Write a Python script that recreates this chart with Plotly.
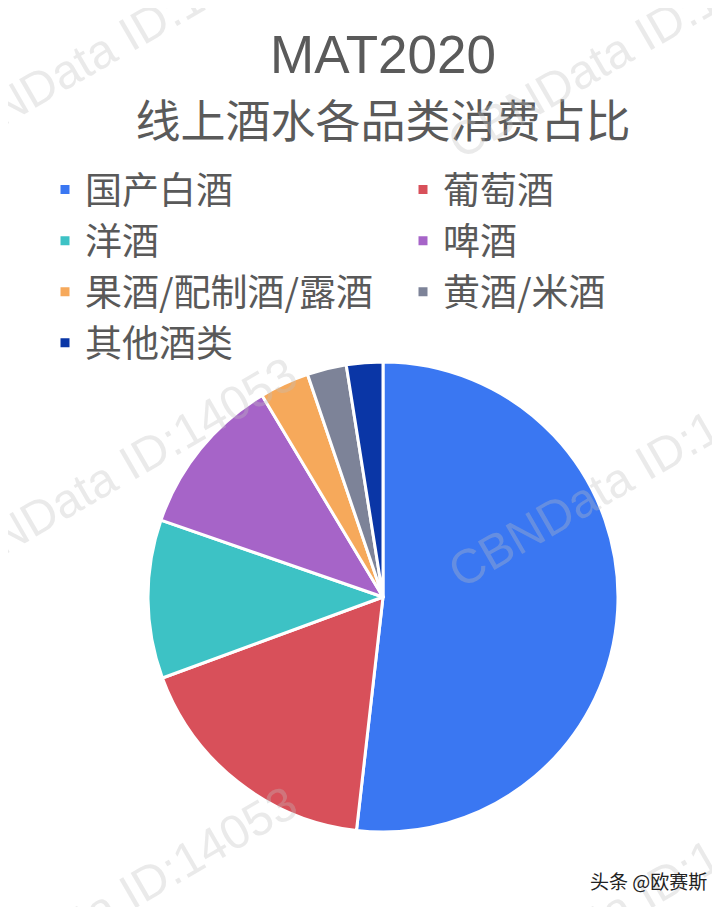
import plotly.graph_objects as go

# ---- data ----
categories = ["国产白酒", "葡萄酒", "洋酒", "啤酒", "果酒/配制酒/露酒", "黄酒/米酒", "其他酒类"]
shares = [51.8, 17.6, 10.9, 11.1, 3.4, 2.7, 2.5]
colors = ["#3A77F2", "#D8505A", "#3DC2C5", "#A664C8", "#F6A95B", "#7D8398", "#0A36A6"]

title_line1 = "MAT2020"
title_line2 = "线上酒水各品类消费占比"
source_text = "头条 @欧赛斯"
watermark = "CBNData ID:14053"

# the page body has an 8px margin, so the figure is sized to fit the window
W, H = 712, 899

cx, cy, r = 375, 589, 235   # pie centre / radius in figure pixels

fig = go.Figure()
fig.add_trace(go.Pie(
    labels=categories,
    values=shares,
    sort=False,
    direction="clockwise",
    rotation=0,
    textinfo="none",
    hoverinfo="label+percent",
    marker=dict(colors=colors, line=dict(color="white", width=3)),
    domain=dict(x=[(cx - r) / W, (cx + r) / W],
                y=[(H - cy - r) / H, (H - cy + r) / H]),
))

# faint tiled watermark
wm_pos = [(106, 36), (622, 36), (106, 464), (622, 464), (106, 893), (622, 893)]
for (px, py) in wm_pos:
    fig.add_annotation(
        x=px / W, y=1 - py / H, xref="paper", yref="paper",
        text=watermark, showarrow=False, textangle=-30,
        font=dict(family="Liberation Sans", size=48, color="rgba(190,190,190,0.33)"),
        xanchor="center", yanchor="middle",
    )

fig.add_annotation(
    x=640 / W, y=1 - 872 / H, xref="paper", yref="paper",
    text=source_text, showarrow=False,
    font=dict(family="Noto Sans CJK SC", size=19, color="#222222"),
    xanchor="center", yanchor="middle",
)

fig.update_layout(
    width=W, height=H,
    margin=dict(l=0, r=0, t=0, b=0, autoexpand=False),
    paper_bgcolor="white", plot_bgcolor="white",
    title=dict(
        text=(f"<span style='font-size:53px'>{title_line1}</span><br>"
              f"<span style='font-size:45px'>{title_line2}</span>"),
        x=375 / W, xanchor="center",
        y=1 - 65 / H, yanchor="top", yref="container",
        font=dict(family="Liberation Sans, Noto Sans CJK SC", size=50, color="#5A5A5A"),
    ),
    showlegend=True,
    legend=dict(
        orientation="h",
        x=37 / W, xanchor="left",
        y=1 - 151 / H, yanchor="top",
        entrywidth=313, entrywidthmode="pixels",
        font=dict(family="Noto Sans CJK SC", size=37, color="#595959"),
        bgcolor="rgba(0,0,0,0)",
        traceorder="normal",
    ),
)

fig.write_html("out.html")
